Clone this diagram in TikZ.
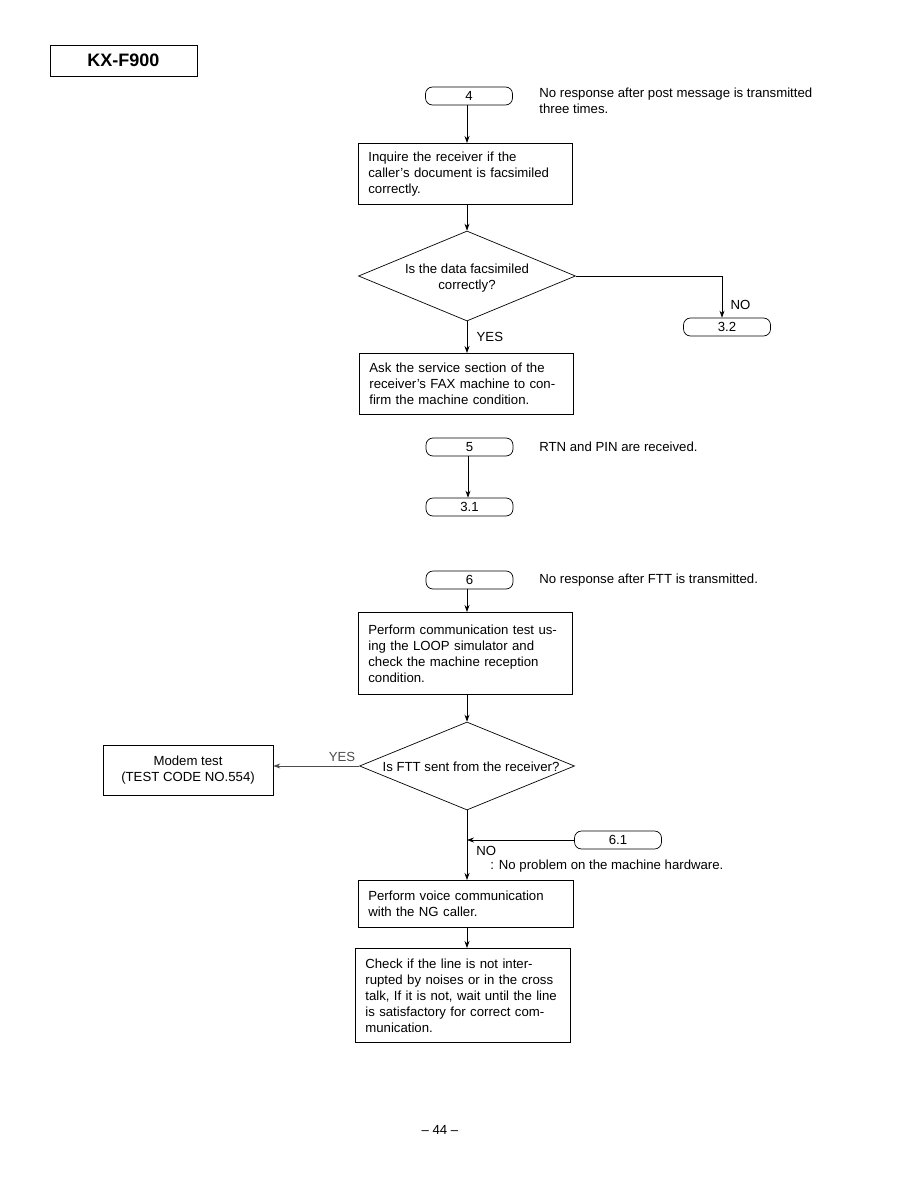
\documentclass[tikz,border=0pt]{standalone}
\usepackage{fontspec}
\setmainfont{Liberation Sans}
\usetikzlibrary{arrows.meta,shapes.geometric}

\begin{document}
\begin{tikzpicture}[
  x=1pt, y=-1pt, line width=0.7pt,
  font=\fontsize{13.2}{16}\selectfont,
  term/.style={draw,rounded corners=7pt,minimum width=87pt,minimum height=18pt,inner sep=0pt},
  proc/.style={draw,anchor=north west,align=left,inner xsep=10pt,inner ysep=0pt},
  dec/.style={draw,diamond,inner sep=0pt},
  note/.style={anchor=west,align=left,inner sep=0pt},
  arrow/.style={-{Stealth[length=7pt,width=5pt]}}
]
  \useasboundingbox (0,0) rectangle (918,1188);

  % header
  \node[draw,line width=0.9pt,minimum width=147pt,minimum height=31pt,
        font=\fontsize{18}{20}\selectfont\bfseries] (title) at (123.5,60.5) {KX-F900};

  % section 4
  \node[term] (t4) at (469,96) {4};
  \node[note] (n4) at (539,101) {No response after post message is transmitted\\three times.};
  \node[proc,text width=194pt,minimum height=61pt] (inq) at (358,143)
    {Inquire the receiver if the\\caller's document is facsimiled\\correctly.};
  \node[dec,minimum width=217pt,minimum height=90pt] (dat) at (467,276) {};
  \node[align=center] (datq) at (467,278) {Is the data facsimiled\\correctly?};
  \node[term] (t32) at (727,327) {3.2};
  \node[proc,text width=194pt,minimum height=61pt] (ask) at (359,353)
    {Ask the service section of the\\receiver's FAX machine to con-\\firm the machine condition.};

  \draw[arrow] (t4.south -| dat.north) -- (inq.north -| dat.north);
  \draw[arrow] (inq.south -| dat.north) -- (dat.north);
  \draw[arrow] (dat.east) -| node[pos=0.85,right=5pt] {NO} (t32.north -| 722,0);
  \draw[arrow] (dat.south) -- node[right=6pt] {YES} (ask.north -| dat.south);

  % section 5
  \node[term] (t5) at (469.5,447) {5};
  \node[note] (n5) at (539,447) {RTN and PIN are received.};
  \node[term] (t31) at (469.5,507) {3.1};
  \draw[arrow] (t5.south -| 468,0) -- (t31.north -| 468,0);

  % section 6
  \node[term] (t6) at (469.5,580) {6};
  \node[note] (n6) at (539,580) {No response after FTT is transmitted.};
  \node[proc,text width=194pt,minimum height=82pt] (loop) at (358,612)
    {Perform communication test us-\\ing the LOOP simulator and\\check the machine reception\\condition.};
  \node[dec,minimum width=215pt,minimum height=88pt] (ftt) at (467,766) {};
  \node (fttq) at (471,767) {Is FTT sent from the receiver?};
  \node[draw,minimum width=170pt,minimum height=50pt,align=center] (modem) at (188,770)
    {Modem test\\(TEST CODE NO.554)};
  \node[term] (t61) at (618,840) {6.1};
  \coordinate (join) at (467,840);
  \node[proc,text width=195pt,minimum height=47pt] (voice) at (358,880)
    {Perform voice communication\\with the NG caller.};
  \node[proc,text width=195pt,minimum height=94pt] (line) at (355,948)
    {Check if the line is not inter-\\rupted by noises or in the cross\\talk, If it is not, wait until the line\\is satisfactory for correct com-\\munication.};

  \draw[arrow] (t6.south -| ftt.north) -- (loop.north -| ftt.north);
  \draw[arrow] (loop.south -| ftt.north) -- (ftt.north);
  \draw[arrow,black!70] (ftt.west) -- node[above=1pt,pos=0.2] {YES} (modem.east |- ftt.west);
  \draw[arrow] (ftt.south) -- (voice.north -| ftt.south);
  \draw[arrow] (t61.west) -- (join);
  \node[anchor=west,inner sep=0pt] (no6) at (476,851) {NO};
  \node[anchor=west,inner sep=0pt] (hw) at (490,866) {: No problem on the machine hardware.};
  \draw[arrow] (voice.south -| ftt.south) -- (line.north -| ftt.south);

  % page number
  \node (page) at (440,1130) {-- 44 --};
\end{tikzpicture}
\end{document}
